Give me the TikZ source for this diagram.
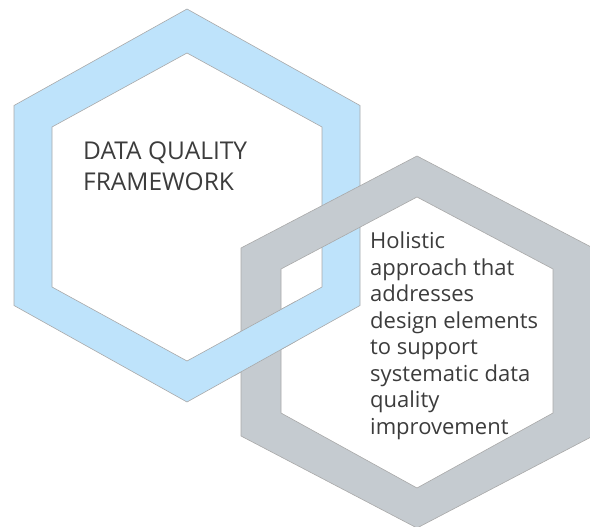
\documentclass[tikz,border=0pt]{standalone}
\usepackage{fontspec}
\setmainfont{Open Sans}
\definecolor{ringblue}{HTML}{BEE3FB}
\definecolor{ringgray}{HTML}{C5CBD0}
\definecolor{ringedge}{HTML}{A9A9A9}
\definecolor{labeltext}{HTML}{3C3C3C}
\tikzset{
  bluering/.style={fill=ringblue, draw=ringedge, line width=0.6pt, even odd rule},
  grayring/.style={fill=ringgray, draw=ringedge, line width=0.6pt, even odd rule},
  ringlabel/.style={inner sep=0pt, anchor=north west, align=left, text=labeltext}
}
\begin{document}
\begin{tikzpicture}[x=1pt, y=-1pt]
  \useasboundingbox (0,0) rectangle (590,527);

  % Blue hexagon ring
  \path[bluering]
    (187,9) -- (360,105.5) -- (360,305.5) -- (187,402) -- (14,305.5) -- (14,105.5) -- cycle
    (187,53) -- (322,127) -- (322,287) -- (187,361) -- (52,287) -- (52,127) -- cycle;

  % Gray hexagon ring (on top of the blue one)
  \path[grayring]
    (417,156) -- (593,248) -- (593,436) -- (417,528) -- (241,436) -- (241,248) -- cycle
    (417,197) -- (553,269) -- (553,413) -- (417,488) -- (281,413) -- (281,269) -- cycle;

  % Blue ring again where it passes over the gray one
  \begin{scope}
    \clip (234,298) rectangle (296,390);
    \path[bluering]
      (187,9) -- (360,105.5) -- (360,305.5) -- (187,402) -- (14,305.5) -- (14,105.5) -- cycle
      (187,53) -- (322,127) -- (322,287) -- (187,361) -- (52,287) -- (52,127) -- cycle;
  \end{scope}

  % Labels
  \node[ringlabel, font=\fontsize{24.5}{31}\selectfont] (framework) at (83,142)
    {DATA QUALITY\\FRAMEWORK};
  \node[ringlabel, font=\fontsize{22}{26.5}\selectfont] (holistic) at (370,232)
    {Holistic\\approach that\\addresses\\design elements\\to support\\systematic data\\quality\\improvement};
\end{tikzpicture}
\end{document}
